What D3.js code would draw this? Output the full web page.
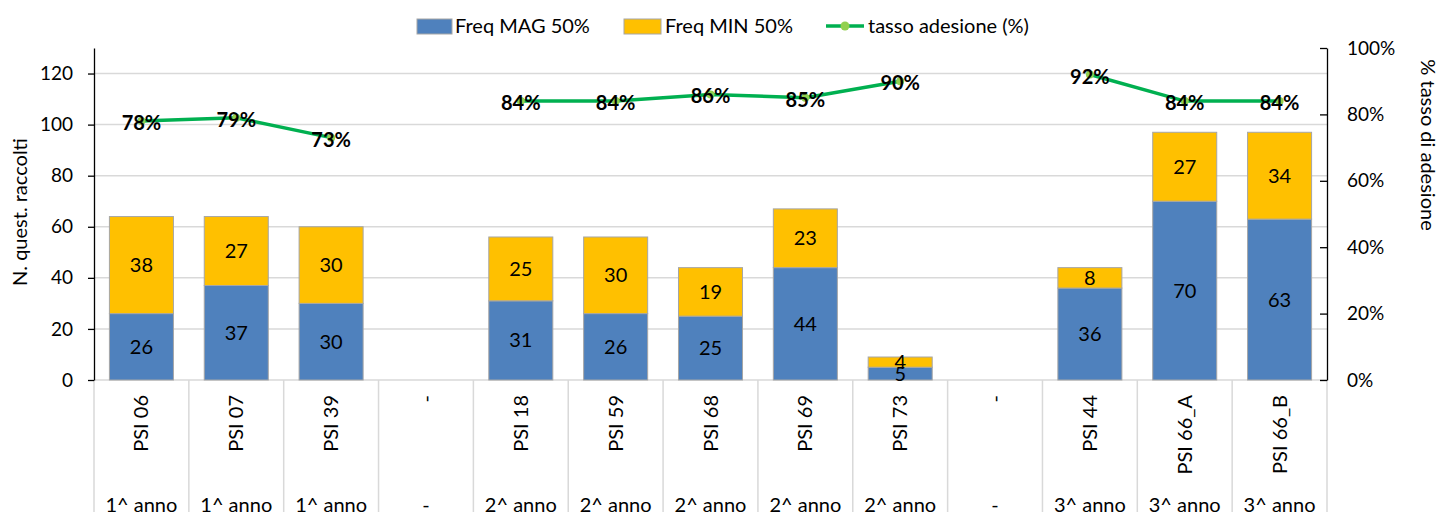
<!DOCTYPE html>
<html>
<head>
<meta charset="utf-8">
<script src="https://cdn.jsdelivr.net/npm/d3@7"></script>
<style>
  body { margin: 0; background: #fff; }
  svg text { font-family: Lato, "Open Sans", sans-serif; fill: #000; }
</style>
</head>
<body>
<div id="chart"></div>
<script>
// Data
const courses = ["PSI 06", "PSI 07", "PSI 39", "-", "PSI 18", "PSI 59", "PSI 68", "PSI 69", "PSI 73", "-", "PSI 44", "PSI 66_A", "PSI 66_B"];
const years = ["1^ anno", "1^ anno", "1^ anno", "-", "2^ anno", "2^ anno", "2^ anno", "2^ anno", "2^ anno", "-", "3^ anno", "3^ anno", "3^ anno"];
const freqMag = [26, 37, 30, null, 31, 26, 25, 44, 5, null, 36, 70, 63];
const freqMin = [38, 27, 30, null, 25, 30, 19, 23, 4, null, 8, 27, 34];
const tasso = [78, 79, 73, null, 84, 84, 86, 85, 90, null, 92, 84, 84];
const leftTicks = [0, 20, 40, 60, 80, 100, 120];
const rightTicks = [0, 20, 40, 60, 80, 100];

const width = 1438;
const height = 512;
const margin = { top: 48, right: 111, bottom: 132, left: 94 };
const plotBottom = height - margin.bottom;

const colMag = "#4f81bd";
const colMin = "#ffc000";
const colLine = "#00b050";
const colMarker = "#92d050";
const colGrid = "#d9d9d9";

const svg = d3.select("#chart")
    .append("svg")
    .attr("width", width)
    .attr("height", height);

const idx = d3.range(courses.length);

// cells (one per category) and bars inside them
const xCell = d3.scaleBand()
    .domain(idx)
    .range([margin.left, width - margin.right]);

const xBar = d3.scaleBand()
    .domain(idx)
    .range([margin.left, width - margin.right])
    .paddingInner(0.325)
    .paddingOuter(0.1625);

const y = d3.scaleLinear()
    .domain([0, 130])
    .range([plotBottom, margin.top]);

const y2 = d3.scaleLinear()
    .domain([0, 100])
    .range([plotBottom, margin.top]);

// gridlines
svg.append("g")
    .selectAll("line")
    .data(leftTicks.filter(d => d > 0))
    .enter()
    .append("line")
    .attr("x1", margin.left)
    .attr("x2", width - margin.right)
    .attr("y1", d => y(d))
    .attr("y2", d => y(d))
    .attr("stroke", colGrid)
    .attr("stroke-width", 1.5);

// category table below the axis
svg.append("line")
    .attr("x1", margin.left)
    .attr("x2", width - margin.right)
    .attr("y1", plotBottom)
    .attr("y2", plotBottom)
    .attr("stroke", colGrid)
    .attr("stroke-width", 1.5);

svg.append("g")
    .selectAll("line")
    .data(idx.concat([courses.length]))
    .enter()
    .append("line")
    .attr("x1", d => d < courses.length ? xCell(d) : width - margin.right)
    .attr("x2", d => d < courses.length ? xCell(d) : width - margin.right)
    .attr("y1", plotBottom)
    .attr("y2", height)
    .attr("stroke", colGrid)
    .attr("stroke-width", 1.5);

svg.append("g")
    .selectAll("text")
    .data(idx)
    .enter()
    .append("text")
    .attr("transform", d => `translate(${xCell(d) + xCell.bandwidth() / 2},${plotBottom + 15}) rotate(-90)`)
    .attr("text-anchor", "end")
    .attr("dy", "0.35em")
    .style("font-size", "20px")
    .text(d => courses[d]);

svg.append("g")
    .selectAll("text")
    .data(idx)
    .enter()
    .append("text")
    .attr("x", d => xCell(d) + xCell.bandwidth() / 2)
    .attr("y", height)
    .attr("text-anchor", "middle")
    .style("font-size", "20px")
    .text(d => years[d]);

// stacked bars
const barData = idx.filter(i => freqMag[i] !== null);

const bars = svg.append("g");
bars.selectAll("rect.mag")
    .data(barData)
    .enter()
    .append("rect")
    .attr("class", "mag")
    .attr("x", i => xBar(i))
    .attr("width", xBar.bandwidth())
    .attr("y", i => y(freqMag[i]))
    .attr("height", i => y(0) - y(freqMag[i]))
    .attr("fill", colMag)
    .attr("stroke", "#a6a6a6")
    .attr("stroke-width", 1);

bars.selectAll("rect.min")
    .data(barData)
    .enter()
    .append("rect")
    .attr("class", "min")
    .attr("x", i => xBar(i))
    .attr("width", xBar.bandwidth())
    .attr("y", i => y(freqMag[i] + freqMin[i]))
    .attr("height", i => y(freqMag[i]) - y(freqMag[i] + freqMin[i]))
    .attr("fill", colMin)
    .attr("stroke", "#a6a6a6")
    .attr("stroke-width", 1);

bars.selectAll("text.mag")
    .data(barData)
    .enter()
    .append("text")
    .attr("x", i => xBar(i) + xBar.bandwidth() / 2)
    .attr("y", i => y(freqMag[i] / 2))
    .attr("dy", "0.35em")
    .attr("text-anchor", "middle")
    .style("font-size", "20px")
    .text(i => freqMag[i]);

bars.selectAll("text.min")
    .data(barData)
    .enter()
    .append("text")
    .attr("x", i => xBar(i) + xBar.bandwidth() / 2)
    .attr("y", i => y(freqMag[i] + freqMin[i] / 2))
    .attr("dy", "0.35em")
    .attr("text-anchor", "middle")
    .style("font-size", "20px")
    .text(i => freqMin[i]);

// axes
const leftAxis = svg.append("g")
    .attr("transform", `translate(${margin.left},0)`)
    .call(d3.axisLeft(y).tickValues(leftTicks).tickSize(6).tickSizeOuter(0).tickPadding(15));
leftAxis.selectAll("text").style("font-size", "19px");
leftAxis.selectAll("path, line").attr("stroke", "#000").attr("stroke-width", 1.3);

const rightAxis = svg.append("g")
    .attr("transform", `translate(${width - margin.right},0)`)
    .call(d3.axisRight(y2).tickValues(rightTicks).tickFormat(d => d + "%").tickSize(-7).tickSizeOuter(0).tickPadding(20));
rightAxis.selectAll("text").style("font-size", "19px");
rightAxis.selectAll("path, line").attr("stroke", "#000").attr("stroke-width", 1.3);

// line series
const line = d3.line()
    .defined(i => tasso[i] !== null)
    .x(i => xCell(i) + xCell.bandwidth() / 2)
    .y(i => y2(tasso[i]));

svg.append("path")
    .datum(idx)
    .attr("fill", "none")
    .attr("stroke", colLine)
    .attr("stroke-width", 3.5)
    .attr("d", line);

const lineData = idx.filter(i => tasso[i] !== null);

svg.append("g")
    .selectAll("circle")
    .data(lineData)
    .enter()
    .append("circle")
    .attr("cx", i => xCell(i) + xCell.bandwidth() / 2)
    .attr("cy", i => y2(tasso[i]))
    .attr("r", 4)
    .attr("fill", colMarker);

svg.append("g")
    .selectAll("text")
    .data(lineData)
    .enter()
    .append("text")
    .attr("x", i => xCell(i) + xCell.bandwidth() / 2)
    .attr("y", i => y2(tasso[i]) + 2)
    .attr("dy", "0.35em")
    .attr("text-anchor", "middle")
    .style("font-size", "20px")
    .style("font-weight", "bold")
    .text(i => tasso[i] + "%");

// axis titles
svg.append("text")
    .attr("transform", `translate(20,212) rotate(-90)`)
    .attr("text-anchor", "middle")
    .attr("dy", "0.35em")
    .style("font-size", "20px")
    .text("N. quest. raccolti");

svg.append("text")
    .attr("transform", `translate(1428,145) rotate(90)`)
    .attr("text-anchor", "middle")
    .attr("dy", "0.35em")
    .style("font-size", "20px")
    .text("% tasso di adesione");

// legend
const legend = svg.append("g");
legend.append("rect")
    .attr("x", 417).attr("y", 19).attr("width", 35).attr("height", 15)
    .attr("fill", colMag).attr("stroke", "#a6a6a6");
legend.append("text")
    .attr("x", 455).attr("y", 26).attr("dy", "0.35em")
    .style("font-size", "20px").text("Freq MAG 50%");
legend.append("rect")
    .attr("x", 624).attr("y", 19).attr("width", 37).attr("height", 15)
    .attr("fill", colMin).attr("stroke", "#a6a6a6");
legend.append("text")
    .attr("x", 665).attr("y", 26).attr("dy", "0.35em")
    .style("font-size", "20px").text("Freq MIN 50%");
legend.append("line")
    .attr("x1", 826).attr("x2", 864).attr("y1", 26).attr("y2", 26)
    .attr("stroke", colLine).attr("stroke-width", 3.5);
legend.append("circle")
    .attr("cx", 845).attr("cy", 26).attr("r", 4.5).attr("fill", colMarker);
legend.append("text")
    .attr("x", 868).attr("y", 26).attr("dy", "0.35em")
    .style("font-size", "20px").text("tasso adesione (%)");
</script>
</body>
</html>
